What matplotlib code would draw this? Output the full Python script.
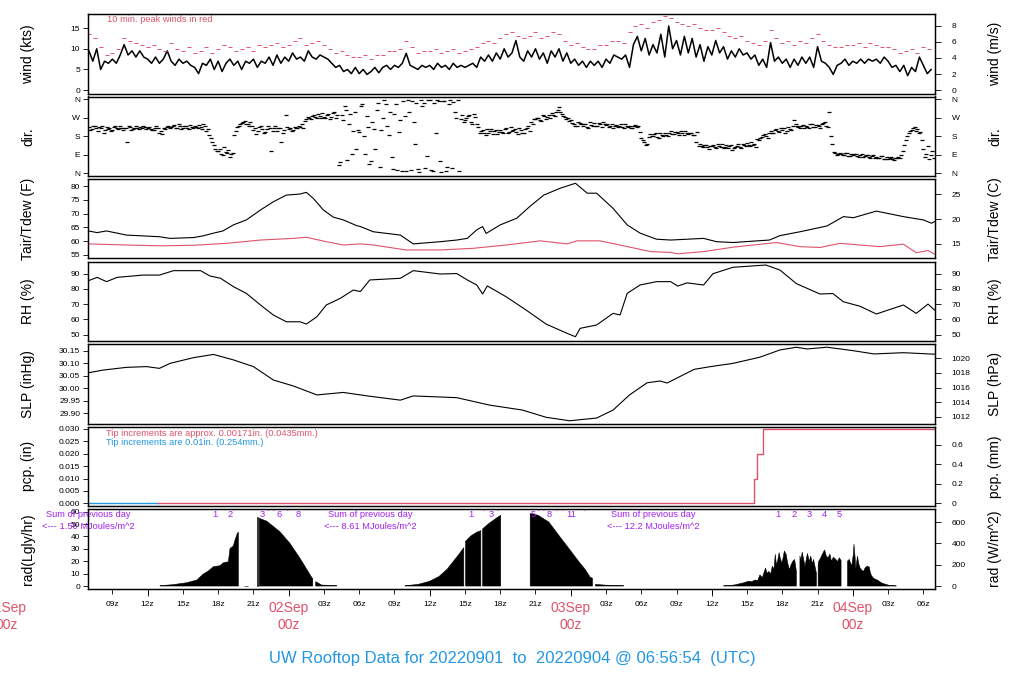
import numpy as np
import matplotlib
matplotlib.use('Agg')
from matplotlib import pyplot as plt

nan = np.nan
plt.rcParams['font.family'] = ['Liberation Sans', 'DejaVu Sans']

RED = '#DF536B'
BLUE = '#2297E6'
PURPLE = '#A020F0'

# time axis: hours relative to 02Sep 00z
t_first, t_last = -17.05, 54.95

# ---- wind speed (kts), one value every 20 min from -17h ----
wind_kts = [
    9.5, 7.0, 10.0, 5.0, 7.0, 6.5, 7.5, 6.5, 8.5, 11.0, 8.5, 9.5,
    8.0, 9.5, 8.0, 7.5, 6.5, 8.0, 6.5, 7.5, 9.5, 7.0, 6.0, 7.5,
    6.5, 7.0, 6.0, 5.5, 4.0, 6.5, 6.0, 7.5, 5.0, 7.0, 4.5, 6.5,
    7.5, 6.0, 7.0, 5.0, 7.0, 6.5, 7.5, 5.5, 7.0, 6.5, 8.0, 6.0,
    8.5, 6.5, 8.0, 7.0, 9.0, 7.5, 8.0, 7.0, 9.5, 8.0, 7.5, 8.5,
    8.0, 7.5, 6.5, 5.5, 6.0, 4.5, 5.0, 4.0, 5.5, 4.0, 5.0, 3.8,
    4.5, 5.5, 4.2, 5.5, 6.0, 5.0, 6.0, 5.5, 6.5, 8.9, 6.0, 5.5,
    5.0, 6.0, 5.5, 6.0, 5.0, 6.5, 5.5, 6.0, 5.0, 6.5, 5.5, 6.0,
    5.5, 6.0, 6.5, 5.5, 8.0, 7.0, 8.5, 7.0, 9.0, 7.5, 10.0, 8.0,
    9.0, 12.0, 8.0, 7.0, 9.5, 8.0, 10.0, 7.5, 9.0, 6.5, 9.5, 8.0,
    10.0, 7.0, 9.0, 6.5, 7.5, 6.0, 7.0, 5.5, 7.0, 6.0, 7.0, 5.5,
    7.5, 6.5, 8.5, 8.0, 7.5, 8.5, 5.5, 11.0, 13.0, 9.5, 12.5, 8.5,
    11.0, 9.0, 13.5, 8.0, 15.5, 10.0, 12.0, 8.5, 13.0, 9.0, 12.5, 8.0,
    11.0, 7.0, 10.5, 8.5, 12.0, 9.0, 10.5, 7.5, 9.5, 8.0, 10.0, 8.5,
    9.0, 7.5, 8.5, 6.0, 7.5, 5.5, 11.5, 7.0, 8.0, 6.5, 7.5, 5.5,
    7.5, 6.0, 8.0, 6.5, 8.0, 5.5, 10.5, 7.0, 6.5, 5.5, 3.8, 6.0,
    6.5, 7.5, 6.0, 7.0, 6.5, 7.5, 6.5, 7.5, 7.0, 7.5, 6.5, 8.0,
    7.0, 5.5, 6.0, 4.5, 6.0, 3.5, 5.5, 4.5, 8.0, 6.0, 4.0, 5.0,
]

# ---- 10 min peak wind (kts), one value every 30 min from -17h ----
gust_kts = [
    13.5, 12.5, 10.5, 8.5, 9.0, 10.0, 12.5, 12.0, 11.5, 11.0, 10.5, 11.0,
    10.0, 9.5, 11.5, 10.0, 9.5, 10.5, 9.0, 9.5, 10.5, 9.0, 10.0, 11.0,
    10.5, 9.5, 10.0, 10.5, 9.5, 11.0, 10.5, 11.0, 11.5, 10.5, 11.0, 12.0,
    12.5, 11.0, 11.5, 12.0, 11.0, 10.0, 9.0, 9.5, 8.5, 8.0, 8.0, 8.5,
    7.5, 8.5, 8.5, 9.5, 9.5, 10.0, 12.0, 10.5, 9.0, 9.5, 9.5, 10.0,
    9.0, 9.5, 10.0, 9.0, 9.5, 10.0, 10.5, 11.5, 12.0, 11.5, 12.5, 13.5,
    14.0, 13.0, 12.5, 13.0, 14.0, 12.5, 13.0, 14.0, 13.5, 12.0, 11.0, 11.5,
    10.5, 10.0, 10.0, 11.0, 11.0, 12.0, 12.0, 11.5, 14.0, 15.5, 16.0, 15.0,
    16.5, 17.0, 18.0, 17.5, 16.5, 16.0, 15.5, 16.0, 15.0, 14.5, 14.5, 15.0,
    14.0, 13.0, 12.5, 13.0, 12.0, 11.5, 11.0, 12.0, 14.5, 12.5, 11.5, 12.0,
    11.0, 12.0, 11.5, 12.5, 13.5, 12.0, 11.0, 10.5, 10.5, 11.0, 11.0, 11.5,
    10.5, 11.5, 11.0, 10.5, 10.5, 10.0, 9.0, 9.5, 10.0, 9.0, 10.5, 10.0,
]

# ---- wind direction (deg), every 15 min from -17h, two interleaved sets ----
dir_deg = [
    225, 215, 230, 205, 220, 195, 225, 218, 210, 228, 215, 222,
    218, 150, 224, 216, 228, 214, 220, 226, 222, 216, 210, 228,
    196, 190, 214, 232, 226, 236, 218, 228, 222, 230, 214, 226,
    232, 218, 226, 240, 205, 185, 150, 118, 110, 95, 125, 100,
    80, 98, 205, 232, 245, 255, 238, 250, 212, 190, 226, 215,
    200, 228, 110, 218, 208, 222, 196, 285, 214, 206, 226, 220,
    225, 218, 262, 270, 280, 272, 290, 268, 276, 284, 262, 292,
    270, 40, 286, 330, 65, 290, 208, 120, 200, 338, 95, 224,
    60, 215, 310, 30, 270, 340, 188, 80, 290, 15, 260, 352,
    8, 300, 350, 140, 20, 356, 345, 85, 355, 10, 195, 350,
    5, 352, 30, 358, 348, 270, 12, 285, 260, 278, 250, 290,
    240, 195, 210, 188, 198, 215, 205, 190, 210, 196, 220, 202,
    205, 215, 190, 210, 196, 220, 205, 240, 262, 270, 255, 278,
    275, 268, 285, 300, 322, 290, 276, 268, 260, 238, 228, 245,
    230, 242, 222, 236, 246, 228, 238, 250, 234, 225, 240, 230,
    226, 238, 222, 232, 228, 218, 236, 230, 170, 150, 140, 190,
    180, 195, 172, 188, 196, 182, 205, 190, 200, 188, 195, 206,
    192, 198, 185, 200, 140, 128, 135, 120, 132, 125, 140, 128,
    122, 138, 130, 115, 128, 142, 124, 135, 146, 132, 138, 128,
    160, 178, 190, 170, 205, 195, 215, 200, 210, 198, 224, 212,
    258, 228, 218, 236, 232, 220, 240, 226, 236, 222, 244, 230,
    300, 140, 98, 92, 95, 88, 100, 84, 86, 92, 80, 95,
    82, 90, 76, 86, 80, 72, 85, 68, 70, 78, 66, 74,
    72, 110, 160, 195, 210, 225, 215, 200, 120, 95, 70, 110,
]
dir_deg_b = [
    212, 228, 218, 224, 230, 210, 216, 205, 224, 218, 232, 210,
    222, 228, 212, 220, 218, 224, 232, 215, 226, 212, 222, 218,
    205, 222, 226, 220, 232, 222, 240, 215, 228, 218, 234, 220,
    226, 236, 215, 228, 215, 170, 135, 108, 120, 88, 105, 115,
    92, 185, 225, 240, 250, 240, 232, 228, 220, 205, 232, 198,
    215, 222, 206, 230, 218, 150, 212, 225, 222, 210, 218, 232,
    240, 255, 275, 265, 285, 270, 278, 295, 270, 288, 275, 300,
    282, 55, 260, 310, 240, 95, 300, 210, 330, 180, 280, 45,
    250, 120, 345, 210, 355, 230, 300, 20, 340, 200, 10, 280,
    355, 15, 250, 345, 5, 330, 25, 358, 15, 345, 355, 60,
    350, 8, 340, 25, 300, 355, 265, 250, 270, 285, 240, 275,
    225, 205, 195, 215, 205, 190, 212, 200, 200, 214, 195, 225,
    212, 200, 218, 195, 215, 230, 250, 265, 270, 258, 282, 265,
    285, 295, 278, 310, 300, 280, 265, 255, 245, 232, 250, 238,
    238, 226, 248, 232, 232, 244, 226, 240, 240, 230, 222, 236,
    232, 224, 240, 226, 222, 232, 226, 200, 160, 135, 175, 182,
    190, 178, 198, 182, 186, 198, 192, 200, 194, 205, 186, 198,
    198, 188, 150, 132, 130, 138, 126, 132, 136, 122, 132, 142,
    128, 124, 136, 122, 134, 128, 140, 130, 136, 150, 142, 165,
    172, 185, 180, 198, 198, 210, 205, 222, 220, 205, 215, 228,
    240, 225, 232, 218, 226, 238, 224, 234, 228, 240, 250, 225,
    180, 105, 90, 100, 90, 96, 82, 92, 94, 84, 90, 78,
    88, 80, 84, 74, 76, 82, 70, 78, 74, 68, 72, 80,
    90, 135, 180, 205, 222, 205, 195, 160, 80, 130, 90, 75,
]

# ---- air temperature and dew point (F) ----
temp_hours = [-17.05, -16.3, -15.5, -13.8, -12.4, -11.0, -10.1, -8.1, -7.3, -6.4,
              -5.6, -4.7, -3.6, -2.4, -1.3, -0.2, 0.97, 1.5, 2.1, 2.95,
              3.8, 4.65, 5.8, 6.1, 7.2, 9.5, 10.6, 12.9, 14.3, 15.2,
              16.0, 16.5, 16.8, 18.0, 19.4, 20.5, 21.7, 23.1, 24.4, 25.4,
              26.2, 27.6, 28.8, 29.9, 31.3, 32.5, 35.3, 36.4, 37.8, 40.9,
              41.8, 43.5, 45.8, 47.2, 48.05, 50.0, 52.3, 54.0, 54.7, 54.95]
temp_f = [63.7, 63.1, 63.7, 62.2, 61.9, 61.6, 61.0, 61.3, 61.9, 62.9,
          63.7, 65.9, 67.7, 71.3, 74.3, 76.7, 77.1, 77.7, 75.5, 71.3,
          68.7, 67.7, 65.6, 65.3, 63.4, 62.2, 59.0, 59.8, 60.4, 61.0,
          64.1, 65.3, 62.8, 65.9, 68.3, 72.5, 76.7, 79.2, 81.0, 77.4,
          77.4, 71.9, 65.9, 62.9, 60.7, 60.4, 61.0, 59.8, 59.5, 60.4,
          62.0, 63.4, 65.5, 68.9, 68.5, 70.9, 68.9, 67.7, 66.5, 67.1]

dew_hours = [-17.05, -13.8, -11.0, -8.1, -5.3, -2.4, 0.4, 1.5, 3.2, 4.65,
             6.1, 7.2, 10.0, 12.9, 15.7, 18.5, 21.4, 23.7, 24.5, 26.5,
             28.5, 30.8, 32.5, 33.1, 35.3, 37.8, 41.5, 43.5, 45.2, 46.9,
             50.3, 52.3, 53.4, 54.4, 54.95]
dew_f = [59.0, 58.6, 58.3, 58.5, 59.2, 60.4, 61.0, 61.4, 59.8, 58.6,
         59.0, 58.6, 56.8, 56.8, 57.4, 58.6, 60.1, 59.0, 60.1, 60.1,
         58.3, 56.2, 55.9, 55.4, 56.2, 57.8, 59.5, 58.0, 57.7, 59.2,
         58.0, 58.9, 55.8, 56.6, 55.3]

# ---- relative humidity (%) ----
rh_hours = [-17.05, -16.3, -15.5, -14.6, -12.4, -11.0, -9.8, -7.5, -6.7, -5.8,
            -4.7, -3.6, -2.4, -1.3, -0.2, 0.97, 1.5, 2.4, 3.2, 4.4,
            5.5, 6.1, 6.9, 9.5, 10.6, 12.9, 14.3, 15.2, 16.0, 16.5,
            16.9, 18.5, 20.2, 21.9, 23.7, 24.4, 24.8, 26.2, 27.6, 28.2,
            28.8, 29.9, 31.3, 32.5, 33.1, 33.9, 35.3, 36.1, 37.8, 40.6,
            41.8, 43.2, 45.2, 46.3, 47.2, 48.6, 50.0, 52.3, 53.4, 54.4, 54.95]
rh_pct = [85.4, 87.6, 84.8, 87.6, 89.1, 89.1, 92.0, 92.0, 88.5, 87.0,
          81.5, 77.1, 69.5, 62.9, 58.5, 58.5, 57.0, 61.8, 69.5, 73.9,
          79.3, 78.3, 85.9, 87.0, 92.0, 89.8, 90.1, 85.9, 82.6, 76.7,
          82.0, 74.9, 66.2, 57.0, 50.9, 48.7, 54.2, 56.4, 64.0, 63.0,
          77.1, 82.6, 84.8, 84.8, 81.9, 84.0, 82.6, 90.0, 94.2, 95.7,
          92.4, 83.5, 76.7, 77.0, 71.6, 68.7, 63.6, 69.5, 64.0, 70.1, 66.2]

# ---- sea level pressure (inHg) ----
slp_hours = [-17.05, -15.8, -13.8, -12.1, -11.0, -10.1, -8.1, -6.4, -4.7, -3.0,
             -1.3, 0.4, 2.4, 4.65, 6.7, 9.5, 10.6, 14.3, 17.1, 19.9,
             21.9, 23.9, 26.2, 27.6, 29.0, 30.5, 31.6, 32.2, 34.5, 35.9,
             37.8, 40.1, 41.8, 43.2, 44.1, 45.8, 48.05, 49.8, 52.3, 54.95]
slp_inhg = [30.062, 30.073, 30.084, 30.087, 30.080, 30.100, 30.123, 30.136, 30.114, 30.087,
            30.033, 30.009, 29.973, 29.983, 29.969, 29.952, 29.969, 29.962, 29.932, 29.912,
            29.883, 29.869, 29.880, 29.912, 29.973, 30.022, 30.029, 30.021, 30.076, 30.087,
            30.100, 30.125, 30.154, 30.165, 30.158, 30.165, 30.151, 30.138, 30.143, 30.137]

# ---- precipitation (in), accumulated ----
pcp_old_hours = [-17.05, -11.1]
pcp_old_in = [0.0, 0.0]
pcp_hours = [-11.1, 39.55, 39.83, 40.40, 54.95]
pcp_in = [0.0, 0.01, 0.02, 0.03, 0.03]

# ---- solar radiation (W/m^2), nan = no data ----
rad_hours = [
    -10.95, -9.82, -8.67, -7.82, -7.26, -6.84, -6.41, -5.84, -5.56, -5.13,
    -4.99, -4.71, -4.57, -4.37, -4.28, nan, -3.8, -3.5, nan, -2.72, -2.62, nan,
    -2.50, -1.87, -0.74, 0.11, 0.97, 1.96, 2.05, nan, 2.30, 2.81, 4.09, nan,
    9.9, 11.0, 12.0, 12.8, 13.5, 14.0, 14.5, 14.9, nan,
    15.05, 15.5, 16.0, 16.35, nan, 16.5, 17.0, 17.6, 18.04, nan,
    20.55, 21.22, 22.14, 23.01, 23.89, 24.77, 25.2, 25.65, 25.85, nan,
    26.1, 27.0, 28.5, nan,
    37.0, 37.5, 37.94, 38.4, 38.8, 39.1, 39.4, 39.7, 39.9, 40.1,
    40.3, 40.57, 40.7, 40.86, 41.0, 41.15, 41.3, 41.4, 41.5, 41.6,
    41.73, 41.85, 41.97, 42.1, 42.17, 42.33, 42.45, 42.6, 42.75, 42.9,
    43.05, 43.2, nan, 43.5, 43.6, 43.69, 43.8, 43.93, 44.14, 44.3,
    44.42, 44.55, 44.66, 44.9, nan, 45.05, 45.1, 45.25, 45.4, 45.6,
    45.75, 45.9, 46.05, 46.18, 46.35, 46.56, 46.7, 46.85, 47.0, nan,
    47.55, 47.7, 47.9, 48.05, 48.1, 48.2, 48.24, 48.4, 48.5, 48.62,
    48.75, 48.9, 49.05, 49.2, 49.4, 49.5, 49.64, 49.8, 50.07, 50.5,
    51.1, 51.7,
]
rad_wm2 = [
    3, 13, 31, 56, 113, 141, 181, 191, 218, 228,
    353, 375, 431, 494, 506, nan, 4, 4, nan, 650, 650, nan,
    635, 609, 509, 400, 259, 81, 70, nan, 41, 9, 3, nan,
    3, 15, 45, 90, 160, 230, 300, 360, nan,
    420, 470, 505, 520, nan, 536, 584, 632, 664, nan,
    680, 664, 600, 472, 345, 217, 160, 83, 73, nan,
    15, 8, 4, nan,
    2, 5, 10, 22, 32, 45, 41, 57, 50, 105,
    78, 169, 120, 137, 110, 185, 160, 297, 200, 233,
    313, 250, 217, 280, 329, 297, 220, 153, 200, 233,
    249, 137, nan, 281, 240, 319, 260, 185, 306, 230,
    281, 210, 249, 121, nan, 200, 233, 260, 297, 338,
    280, 265, 300, 233, 270, 249, 230, 265, 240, nan,
    233, 250, 185, 300, 392, 260, 153, 281, 210, 169,
    150, 137, 170, 185, 179, 120, 89, 70, 57, 26,
    6, 1,
]

rad_sum_hours = [-17.04, 6.96, 31.0]
rad_sum_text = ['1.50', '8.61', '12.2']
rad_mark_hours = [-6.27, -4.99, -2.29, -1.76, -1.33, -0.80, -0.14, 0.82,
                  15.52, 16.55, 17.25, 17.73, 20.82, 21.26, 21.7, 22.14, 22.78, 23.31, 24.03, 25.2,
                  41.6, 42.97, 44.28, 45.6, 46.86]
rad_mark_text = ['1', '2', '3', "'", "'", '6', "'", '8',
                 '1', "'", '3', "'", '5', "'", "'", '8', "'", "'", '11', "'",
                 '1', '2', '3', '4', '5']

wind_hours = -17 + np.arange(len(wind_kts)) / 3.0
gust_hours = -17 + np.arange(len(gust_kts)) / 2.0
dir_hours = -17 + np.arange(len(dir_deg)) / 4.0
dir_hours_b = -16.875 + np.arange(len(dir_deg_b)) / 4.0

# ---- layout ----
W, H = 1024, 700
fig = plt.figure(figsize=(W / 100, H / 100), dpi=100)
x0, x1 = 88.3, 934.5
tops = [14, 96.5, 179, 261.5, 344, 426.5, 509]
ph = 79.5


def panel(i, ylim, ticks, labels=None):
    ax = fig.add_axes([x0 / W, 1 - (tops[i] + ph) / H, (x1 - x0) / W, ph / H])
    ax.set_xlim(t_first, t_last)
    ax.set_ylim(ylim)
    ax.set_yticks(ticks)
    if labels is not None:
        ax.set_yticklabels(labels)
    ax.set_xticks([])
    ax.tick_params(axis='y', direction='out', length=3.8, width=0.6, pad=2, labelsize=6)
    for s in ax.spines.values():
        s.set_linewidth(0.9)
    return ax


def right_axis(ax, conv, ticks, labels=None):
    ax2 = ax.twinx()
    lo, hi = ax.get_ylim()
    ax2.set_ylim(conv(lo), conv(hi))
    ax2.set_yticks(ticks)
    if labels is not None:
        ax2.set_yticklabels(labels)
    ax2.tick_params(axis='y', direction='out', length=4.3, width=0.6, pad=8, labelsize=6)
    for s in ax2.spines.values():
        s.set_linewidth(0.9)
    return ax2


def side_labels(i, left, right):
    yc = 1 - (tops[i] + ph / 2) / H
    fig.text(28 / W, yc, left, rotation=90, ha='center', va='center', fontsize=10)
    fig.text(995 / W, yc, right, rotation=90, ha='center', va='center', fontsize=10)


# wind
ax = panel(0, (-0.8, 18.4), [0, 5, 10, 15])
ax.plot(wind_hours, wind_kts, color='k', lw=1.1)
ax.plot(gust_hours, gust_kts, ls='none', marker='_', ms=2.8, mew=0.7, color=RED)
ax.text(-15.48, 0.925, '10 min. peak winds in red', color=RED, fontsize=6.7,
        transform=ax.get_xaxis_transform(), ha='left', va='center')
right_axis(ax, lambda v: v / 1.94384, [0, 2, 4, 6, 8])
side_labels(0, 'wind (kts)', 'wind (m/s)')

# direction
dticks = [0, 90, 180, 270, 360]
dlabs = ['N', 'E', 'S', 'W', 'N']
ax = panel(1, (-14.4, 374.4), dticks, dlabs)
ax.plot(dir_hours, dir_deg, ls='none', marker='_', ms=3.0, mew=0.9, color='k')
ax.plot(dir_hours_b, dir_deg_b, ls='none', marker='_', ms=3.0, mew=0.9, color='k')
right_axis(ax, lambda v: v, dticks, dlabs)
side_labels(1, 'dir.', 'dir.')

# temperature / dew point
ax = panel(2, (53.7, 82.55), [55, 60, 65, 70, 75, 80])
ax.plot(temp_hours, temp_f, color='k', lw=0.8)
ax.plot(dew_hours, dew_f, color=RED, lw=0.8)
right_axis(ax, lambda v: (v - 32) * 5 / 9, [15, 20, 25])
side_labels(2, 'Tair/Tdew (F)', 'Tair/Tdew (C)')

# relative humidity
ax = panel(3, (45.9, 98.0), [50, 60, 70, 80, 90])
ax.plot(rh_hours, rh_pct, color='k', lw=0.8)
right_axis(ax, lambda v: v, [50, 60, 70, 80, 90])
side_labels(3, 'RH (%)', 'RH (%)')

# pressure
sticks = [29.90, 29.95, 30.00, 30.05, 30.10, 30.15]
ax = panel(4, (29.858, 30.178), sticks, ['%.2f' % v for v in sticks])
ax.plot(slp_hours, slp_inhg, color='k', lw=0.8)
right_axis(ax, lambda v: v * 33.8639, [1012, 1014, 1016, 1018, 1020])
side_labels(4, 'SLP (inHg)', 'SLP (hPa)')

# precipitation
pticks = [0.0, 0.005, 0.010, 0.015, 0.020, 0.025, 0.030]
ax = panel(5, (-0.0011, 0.0310), pticks, ['%.3f' % v for v in pticks])
ax.plot(pcp_old_hours, pcp_old_in, color=BLUE, lw=1.0)
ax.plot(pcp_hours, pcp_in, color=RED, lw=1.0, drawstyle='steps-post')
tr = ax.get_xaxis_transform()
ax.text(-15.54, 0.914, 'Tip increments are approx. 0.00171in. (0.0435mm.)', color=RED,
        fontsize=6.7, transform=tr, ha='left', va='center')
ax.text(-15.54, 0.805, 'Tip increments are 0.01in. (0.254mm.)', color=BLUE,
        fontsize=6.7, transform=tr, ha='left', va='center')
right_axis(ax, lambda v: v * 25.4, [0, 0.2, 0.4, 0.6], ['0', '0.2', '0.4', '0.6'])
side_labels(5, 'pcp. (in)', 'pcp. (mm)')

# radiation
ax = panel(6, (-2.0, 62.2), [0, 10, 20, 30, 40, 50, 60])
rad_ly = np.array(rad_wm2, dtype=float) / 11.622
ax.fill_between(rad_hours, 0, rad_ly, color='k', lw=0.4)
tr = ax.get_xaxis_transform()
for h, s in zip(rad_sum_hours, rad_sum_text):
    ax.text(h, 0.925, 'Sum of previous day', color=PURPLE, fontsize=6.7, transform=tr,
            ha='center', va='center', clip_on=False)
    ax.text(h, 0.774, '<--- %s MJoules/m^2' % s, color=PURPLE, fontsize=6.7, transform=tr,
            ha='center', va='center', clip_on=False)
for h, s in zip(rad_mark_hours, rad_mark_text):
    yy = 0.95 if s == "'" else 0.925
    ax.text(h, yy, s, color=PURPLE, fontsize=6.7, transform=tr, ha='center', va='center')
right_axis(ax, lambda v: v * 11.622, [0, 200, 400, 600])
side_labels(6, 'rad(Lgly/hr)', 'rad (W/m^2)')

# time axis along the bottom
hours3 = np.arange(-15, 55, 3)
ax.set_xticks(hours3)
ax.set_xticklabels(['' if h % 24 == 0 else '%02dz' % (h % 24) for h in hours3])
ax.set_xticks(np.arange(-12, 55, 12), minor=True)
ax.xaxis.remove_overlapping_locs = False
ax.tick_params(axis='x', which='major', direction='out', length=3.4, width=0.6, pad=5.9, labelsize=6)
ax.tick_params(axis='x', which='minor', direction='out', length=5.2, width=0.6)
for h, d in zip([-24, 0, 24, 48], ['01Sep', '02Sep', '03Sep', '04Sep']):
    ax.text(h, -0.245, d, color=RED, fontsize=10, transform=tr, ha='center', va='center', clip_on=False)
    ax.text(h, -0.465, '00z', color=RED, fontsize=10, transform=tr, ha='center', va='center', clip_on=False)

fig.text(0.5, 1 - 658.5 / H, 'UW Rooftop Data for 20220901  to  20220904 @ 06:56:54  (UTC)',
         color=BLUE, fontsize=12, ha='center', va='center')

fig.savefig('out.png', dpi=100)
